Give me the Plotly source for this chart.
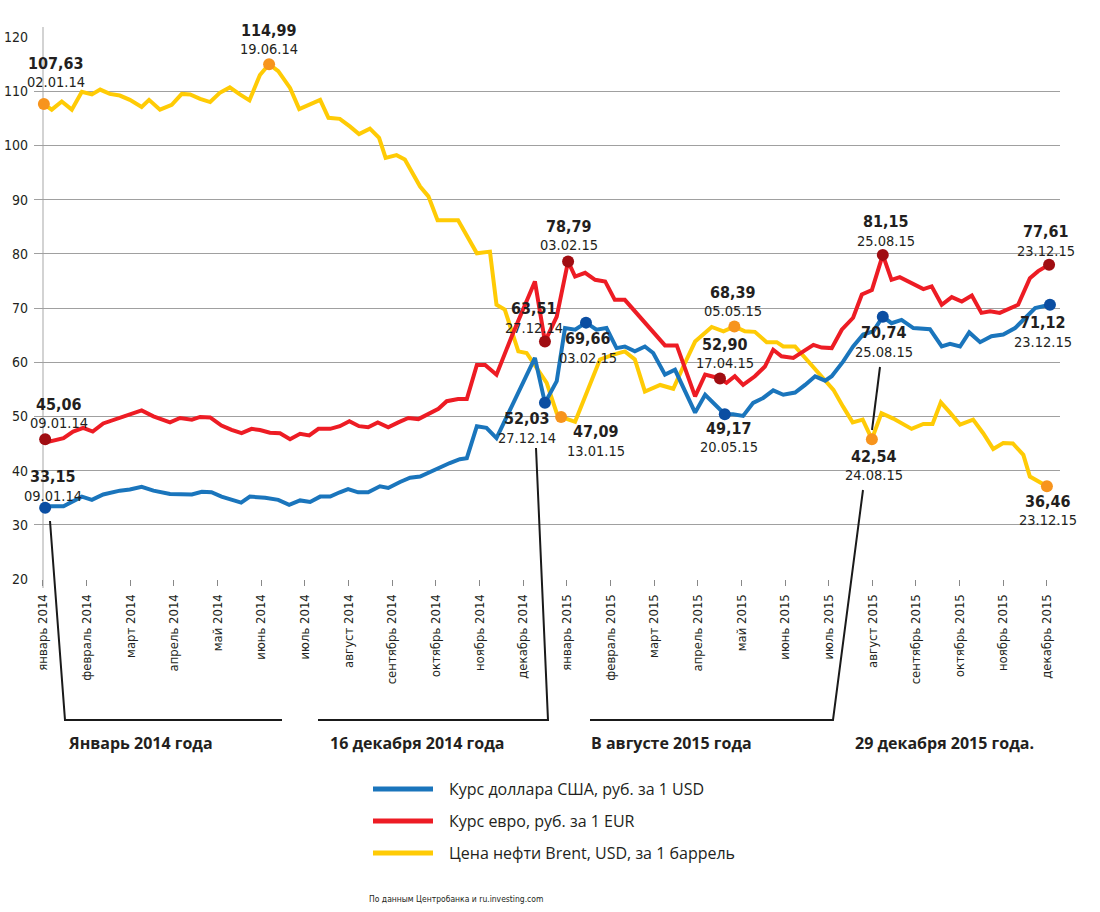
import plotly.graph_objects as go

# ---------------- data ----------------
month_labels = ["январь 2014", "февраль 2014", "март 2014", "апрель 2014", "май 2014", "июнь 2014",
                "июль 2014", "август 2014", "сентябрь 2014", "октябрь 2014", "ноябрь 2014", "декабрь 2014",
                "январь 2015", "февраль 2015", "март 2015", "апрель 2015", "май 2015", "июнь 2015",
                "июль 2015", "август 2015", "сентябрь 2015", "октябрь 2015", "ноябрь 2015", "декабрь 2015"]
month_pos = list(range(24))

# Brent oil, USD per barrel (x in months from January 2014)
oil_x = [0.02, 0.20, 0.43, 0.66, 0.89, 1.12, 1.31, 1.53, 1.76, 1.99, 2.26, 2.43, 2.68, 2.95, 3.18, 3.37,
         3.60, 3.83, 4.05, 4.28, 4.51, 4.73, 4.97, 5.18, 5.39, 5.66, 5.87, 6.12, 6.35, 6.54, 6.80, 7.03,
         7.24, 7.49, 7.70, 7.85, 8.10, 8.29, 8.45, 8.64, 8.83, 9.04, 9.51, 9.94, 10.24, 10.39, 10.58,
         10.89, 11.08, 11.54, 11.77, 11.87, 12.19, 12.76, 13.07, 13.33, 13.56, 13.79, 14.14, 14.44,
         14.67, 14.94, 15.32, 15.59, 15.84, 16.08, 16.31, 16.58, 16.81, 16.96, 17.23, 17.50, 17.76,
         18.11, 18.33, 18.55, 18.78, 18.99, 19.21, 19.48, 19.90, 20.17, 20.38, 20.57, 20.78, 21.01,
         21.31, 21.54, 21.77, 22.00, 22.22, 22.46, 22.61, 23.00]
oil_v = [107.63, 106.6, 108.1, 106.6, 109.9, 109.4, 110.3, 109.5, 109.2, 108.4, 107.1, 108.4, 106.6,
         107.5, 109.5, 109.4, 108.6, 108.0, 109.7, 110.7, 109.4, 108.3, 113.0, 114.99, 113.7, 110.6,
         106.7, 107.5, 108.4, 105.1, 104.9, 103.5, 102.1, 103.1, 101.4, 97.7, 98.2, 97.4, 95.2, 92.4,
         90.6, 86.2, 86.2, 80.1, 80.4, 70.6, 69.7, 62.0, 61.7, 56.2, 50.6, 49.9, 49.0, 60.5, 61.4, 62.0,
         60.5, 54.6, 55.8, 55.1, 59.2, 63.8, 66.5, 65.7, 66.6, 65.7, 65.6, 63.7, 63.7, 62.9, 62.9, 60.5,
         58.0, 54.9, 51.8, 48.9, 49.4, 45.8, 50.6, 49.6, 47.7, 48.6, 48.6, 52.6, 50.7, 48.5, 49.4, 46.9,
         44.0, 45.1, 45.0, 42.9, 38.9, 37.1]

# EUR rate, rub
eur_x = [0.05, 0.16, 0.47, 0.69, 0.92, 1.14, 1.38, 1.73, 1.99, 2.26, 2.53, 2.91, 3.14, 3.41, 3.60, 3.83,
         4.09, 4.32, 4.55, 4.78, 4.97, 5.20, 5.43, 5.66, 5.89, 6.10, 6.31, 6.58, 6.80, 7.02, 7.24, 7.45,
         7.67, 7.91, 8.14, 8.37, 8.60, 8.83, 9.06, 9.25, 9.51, 9.71, 9.94, 10.13, 10.39, 10.77, 11.27,
         11.50, 11.77, 12.03, 12.19, 12.42, 12.65, 12.88, 13.10, 13.33, 13.60, 13.91, 14.25, 14.52,
         14.94, 15.17, 15.36, 15.51, 15.66, 15.85, 16.04, 16.31, 16.54, 16.73, 16.92, 17.19, 17.42,
         17.65, 17.84, 18.07, 18.30, 18.56, 18.76, 18.99, 19.24, 19.44, 19.63, 19.90, 20.17, 20.36,
         20.59, 20.82, 21.05, 21.28, 21.50, 21.70, 21.92, 22.34, 22.61, 22.80, 23.05]
eur_v = [45.8, 45.4, 46.0, 47.2, 47.9, 47.2, 48.7, 49.7, 50.5, 51.1, 50.0, 48.9, 49.7, 49.4, 49.9, 49.8,
         48.3, 47.5, 46.9, 47.7, 47.5, 47.0, 46.9, 45.8, 46.8, 46.5, 47.7, 47.7, 48.2, 49.1, 48.2, 48.0,
         48.9, 48.0, 48.9, 49.7, 49.5, 50.5, 51.4, 52.8, 53.2, 53.2, 59.5, 59.5, 57.7, 65.4, 74.9, 63.8,
         68.4, 78.6, 75.8, 76.5, 75.2, 74.9, 71.5, 71.5, 69.1, 66.3, 63.1, 63.1, 53.7, 57.7, 57.4, 57.0,
         56.2, 57.4, 55.8, 57.4, 59.2, 62.3, 61.1, 60.8, 62.0, 63.2, 62.7, 62.6, 66.0, 68.2, 72.5, 73.3,
         79.8, 75.2, 75.7, 74.6, 73.5, 74.0, 70.6, 72.0, 71.2, 72.3, 69.1, 69.4, 69.1, 70.6, 75.5, 76.8,
         78.0]

# USD rate, rub
usd_x = [0.05, 0.16, 0.47, 0.69, 0.89, 1.12, 1.38, 1.76, 1.99, 2.26, 2.53, 2.91, 3.14, 3.41, 3.64, 3.86,
         4.09, 4.32, 4.54, 4.74, 5.09, 5.39, 5.64, 5.89, 6.12, 6.35, 6.58, 6.80, 6.99, 7.22, 7.45, 7.72,
         7.91, 8.18, 8.41, 8.64, 8.87, 9.10, 9.32, 9.55, 9.71, 9.94, 10.16, 10.39, 11.27, 11.50, 11.77,
         11.96, 12.19, 12.44, 12.68, 12.91, 13.14, 13.33, 13.56, 13.79, 13.98, 14.25, 14.48, 14.94,
         15.17, 15.62, 15.81, 16.04, 16.27, 16.50, 16.73, 16.96, 17.23, 17.46, 17.69, 17.92, 18.07,
         18.33, 18.56, 18.79, 19.02, 19.24, 19.44, 19.67, 19.94, 20.32, 20.59, 20.78, 21.01, 21.22,
         21.47, 21.73, 22.00, 22.27, 22.50, 22.73, 23.07]
usd_v = [33.15, 33.4, 33.4, 34.3, 35.2, 34.6, 35.6, 36.3, 36.5, 37.0, 36.3, 35.7, 35.7, 35.6, 36.1, 36.0,
         35.2, 34.6, 34.1, 35.2, 35.0, 34.6, 33.7, 34.5, 34.2, 35.2, 35.2, 36.0, 36.6, 36.0, 36.0, 37.1,
         36.8, 37.9, 38.7, 38.9, 39.8, 40.6, 41.4, 42.1, 42.3, 48.2, 47.9, 46.0, 60.8, 52.5, 56.5, 66.3,
         66.0, 67.3, 66.0, 66.3, 62.6, 62.9, 62.0, 62.9, 61.7, 57.7, 58.6, 50.7, 54.0, 50.4, 50.4, 50.1,
         52.5, 53.4, 54.8, 54.0, 54.4, 55.8, 57.4, 56.6, 57.4, 60.1, 62.9, 65.1, 65.7, 68.4, 67.2, 67.8,
         66.3, 66.1, 62.9, 63.4, 62.9, 65.5, 63.7, 64.8, 65.1, 66.3, 68.2, 70.0, 70.6]

# highlighted points: index in series, value text, date text
oil_keys = [0, 23, 51, 64, 77, 93]
oil_key_val = ["107,63", "114,99", "47,09", "68,39", "42,54", "36,46"]
oil_key_date = ["02.01.14", "19.06.14", "13.01.15", "05.05.15", "24.08.15", "23.12.15"]

eur_keys = [0, 47, 49, 63, 80, 96]
eur_key_val = ["45,06", "63,51", "78,79", "52,90", "81,15", "77,61"]
eur_key_date = ["09.01.14", "27.12.14", "03.02.15", "17.04.15", "25.08.15", "23.12.15"]

usd_keys = [0, 45, 49, 61, 77, 92]
usd_key_val = ["33,15", "52,03", "69,66", "49,17", "70,74", "71,12"]
usd_key_date = ["09.01.14", "27.12.14", "03.02.15", "20.05.15", "25.08.15", "23.12.15"]

legend_names = ["Курс доллара США, руб. за 1 USD", "Курс евро, руб. за 1 EUR",
                "Цена нефти Brent, USD, за 1 баррель"]
period_titles = ["Январь 2014 года", "16 декабря 2014 года", "В августе 2015 года", "29 декабря 2015 года."]
source_text = "По данным Центробанка и ru.investing.com"

# ---------------- styles / layout ----------------
W, H = 1100, 912
L, R, T, B = 34, 40, 37, 333
PW, PH = W - L - R, H - T - B

def pxx(v):
    return (v - L) / PW

def pxy(v):
    return (H - B - v) / PH

NARROW = "Liberation Sans Narrow, DejaVu Sans Condensed, Arial Narrow, Liberation Sans, sans-serif"
SANS = "Open Sans, Noto Sans, DejaVu Sans, sans-serif"
INK = "#231f20"

C_USD, C_EUR, C_OIL = "#1a75bc", "#ed1c24", "#ffcb05"
D_USD, D_EUR, D_OIL = "#0b4ea2", "#a00d12", "#f7941d"

fig = go.Figure()
for xs, vs, col in [(oil_x, oil_v, C_OIL), (eur_x, eur_v, C_EUR), (usd_x, usd_v, C_USD)]:
    fig.add_trace(go.Scatter(x=xs, y=vs, mode="lines", line=dict(color=col, width=4),
                             showlegend=False, hoverinfo="skip"))

series_keys = [
    (oil_x, oil_v, oil_keys, oil_key_val, oil_key_date, D_OIL,
     [(12, -41), (0, -34), (35, 15), (-1, -34), (2, 17), (1, 15)]),
    (eur_x, eur_v, eur_keys, eur_key_val, eur_key_date, D_EUR,
     [(14, -35), (-11, -33), (1, -35), (5, -34), (3, -33), (-3, -33)]),
    (usd_x, usd_v, usd_keys, usd_key_val, usd_key_date, D_USD,
     [(8, -31), (-18, 16), (2, 16), (4, 14), (1, 16), (-7, 18)]),
]

annotations = []
for xs, vs, keys, vals, dates, dcol, offs in series_keys:
    kx = [xs[i] for i in keys]
    ky = [vs[i] for i in keys]
    fig.add_trace(go.Scatter(x=kx, y=ky, mode="markers", marker=dict(color=dcol, size=12),
                             showlegend=False, hoverinfo="skip", cliponaxis=False))
    for x0, y0, vt, dt, (dx, dy) in zip(kx, ky, vals, dates, offs):
        annotations.append(dict(x=x0, y=y0, xref="x", yref="y", text="<b>%s</b>" % vt, showarrow=False,
                                xanchor="center", yanchor="middle",
                                xshift=dx, yshift=-dy, font=dict(family=NARROW, size=16, color=INK)))
        annotations.append(dict(x=x0, y=y0, xref="x", yref="y", text=dt, showarrow=False,
                                xanchor="center", yanchor="middle",
                                xshift=dx, yshift=-(dy + 19), font=dict(family=NARROW, size=14.5, color=INK)))

# period titles under the axis
for xc, t in zip([140, 417, 671, 944], period_titles):
    annotations.append(dict(x=pxx(xc), y=pxy(743), xref="paper", yref="paper", text="<b>%s</b>" % t,
                            showarrow=False, xanchor="center", yanchor="middle",
                            font=dict(family=SANS, size=16, color=INK)))

# legend (custom)
shapes = []
for i, (name, col) in enumerate(zip(legend_names, [C_USD, C_EUR, C_OIL])):
    yy = 789 + 32 * i
    shapes.append(dict(type="line", xref="paper", yref="paper", x0=pxx(373), x1=pxx(433),
                       y0=pxy(yy), y1=pxy(yy), line=dict(color=col, width=5)))
    annotations.append(dict(x=pxx(447), y=pxy(yy), xref="paper", yref="paper", text=name,
                            showarrow=False, xanchor="left", yanchor="middle",
                            font=dict(family=SANS, size=16, color=INK)))

annotations.append(dict(x=pxx(367), y=pxy(899), xref="paper", yref="paper", text=source_text,
                        showarrow=False, xanchor="left", yanchor="middle",
                        font=dict(family=NARROW, size=8.5, color=INK)))

# connector brackets
def path(pts):
    s = "M %f %f" % (pxx(pts[0][0]), pxy(pts[0][1]))
    for a, b in pts[1:]:
        s += " L %f %f" % (pxx(a), pxy(b))
    return s

for pts in [[(50, 521), (65, 720), (282, 720)],
            [(536, 448), (548, 720), (318, 720)],
            [(880, 367), (872, 430)],
            [(863, 490), (833, 720), (590, 720)]]:
    shapes.append(dict(type="path", xref="paper", yref="paper", path=path(pts),
                       line=dict(color="#1a1a1a", width=2)))

# vertical axis line at January 2014
shapes.append(dict(type="line", xref="paper", yref="paper", x0=pxx(43), x1=pxx(43),
                   y0=pxy(588), y1=pxy(27), line=dict(color="#c4c4c4", width=1.5), layer="below"))

fig.update_layout(
    width=W, height=H, autosize=False,
    margin=dict(l=L, r=R, t=T, b=B, autoexpand=False),
    paper_bgcolor="white", plot_bgcolor="white",
    annotations=annotations, shapes=shapes,
    xaxis=dict(range=[-0.206, 23.30], tickvals=month_pos, ticktext=month_labels, tickangle=-90,
               ticks="outside", ticklen=6, tickcolor="#888888", showgrid=False, zeroline=False,
               showline=False, automargin=False,
               tickfont=dict(family=NARROW, size=13, color=INK), ticklabelstandoff=3),
    yaxis=dict(range=[20, 120], dtick=10, tick0=20, showgrid=True, gridcolor="#a0a0a0", gridwidth=1,
               zeroline=False, showline=False, ticks="", ticklabelstandoff=5, automargin=False,
               tickfont=dict(family=NARROW, size=14, color=INK)),
)

fig.write_html("out.html")
